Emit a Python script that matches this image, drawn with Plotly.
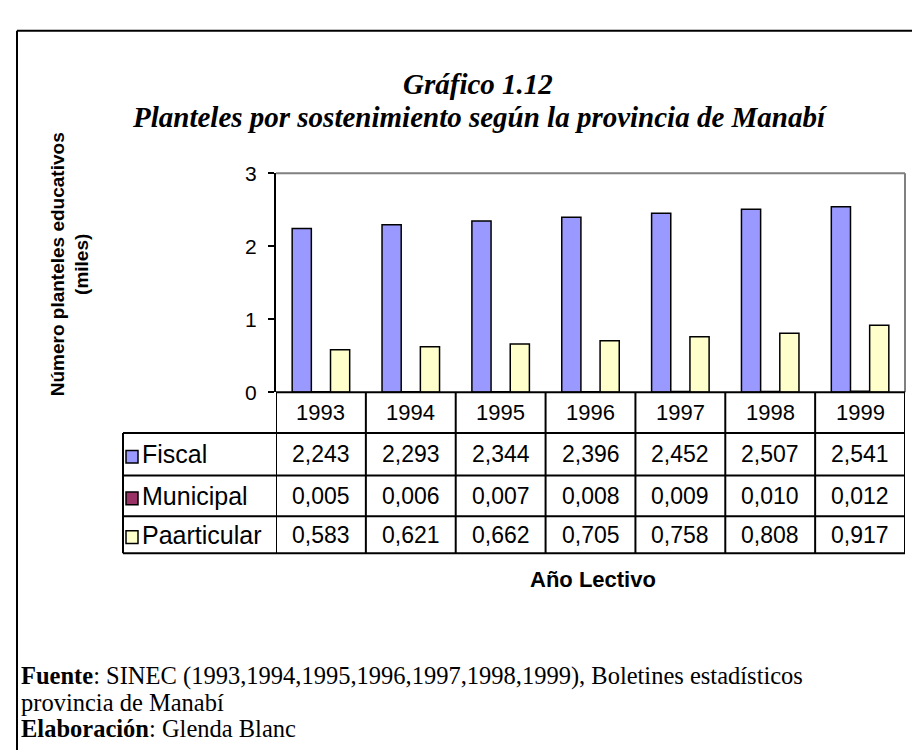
import plotly.graph_objects as go

# ---------------- data ----------------
years = ["1993", "1994", "1995", "1996", "1997", "1998", "1999"]
fiscal = [2.243, 2.293, 2.344, 2.396, 2.452, 2.507, 2.541]
municipal = [0.005, 0.006, 0.007, 0.008, 0.009, 0.010, 0.012]
particular = [0.583, 0.621, 0.662, 0.705, 0.758, 0.808, 0.917]
series_names = ["Fiscal", "Municipal", "Paarticular"]
series_values = [fiscal, municipal, particular]
series_colors = ["#9999FF", "#993366", "#FFFFCC"]
y_ticks = [0, 1, 2, 3]

title_1 = "Gráfico 1.12"
title_2 = "Planteles por sostenimiento según la provincia de Manabí"
y_title = "Número planteles educativos<br>(miles)"
x_title = "Año Lectivo"
footer_1 = "<b>Fuente</b>: SINEC (1993,1994,1995,1996,1997,1998,1999), Boletines estadísticos"
footer_2 = "provincia de Manabí"
footer_3 = "<b>Elaboración</b>: Glenda Blanc"

# ---------------- geometry helpers (pixels -> paper) ----------------
W, H = 920, 750
def X(px):
    return px / W
def Y(py):
    return 1 - py / H

PL, PR, PT, PB = 268, 897, 158, 384      # plot area
TL = 115                                  # table left edge
ROW_LINES = [426, 470, 512, 550]          # horizontal table lines below header
HEADER_C = 405
ROW_C = [448, 491, 531]

SANS = "Arial, Liberation Sans, sans-serif"
SERIF = "Times New Roman, Liberation Serif, serif"

fig = go.Figure()
for name, vals, col in zip(series_names, series_values, series_colors):
    fig.add_trace(go.Bar(
        x=years, y=vals, name=name,
        marker=dict(color=col, line=dict(color="black", width=1.5)),
        hoverinfo="x+y+name",
    ))

shapes = []
line_k = dict(color="black", width=2)
# outer frame (left and top)
shapes.append(dict(type="line", xref="paper", yref="paper",
                   x0=X(9), x1=X(925), y0=Y(11), y1=Y(11), line=line_k))
shapes.append(dict(type="line", xref="paper", yref="paper",
                   x0=X(9), x1=X(9), y0=Y(11), y1=Y(760), line=line_k))
# plot area border (gray top/right)
shapes.append(dict(type="line", xref="paper", yref="paper",
                   x0=X(PL), x1=X(PR), y0=Y(PT), y1=Y(PT),
                   line=dict(color="#808080", width=2)))
shapes.append(dict(type="line", xref="paper", yref="paper",
                   x0=X(PR), x1=X(PR), y0=Y(PT), y1=Y(PB),
                   line=dict(color="#808080", width=2)))
# table: top line (x axis) and vertical separators
shapes.append(dict(type="line", xref="paper", yref="paper",
                   x0=X(PL), x1=X(PR), y0=Y(PB), y1=Y(PB), line=line_k))
for k in range(len(years) + 1):
    shapes.append(dict(type="line", xref="x", yref="paper",
                       x0=k - 0.5, x1=k - 0.5, y0=Y(PB), y1=Y(ROW_LINES[-1]),
                       line=line_k))
for ry in ROW_LINES:
    shapes.append(dict(type="line", xref="paper", yref="paper",
                       x0=X(TL), x1=X(PR), y0=Y(ry), y1=Y(ry), line=line_k))
shapes.append(dict(type="line", xref="paper", yref="paper",
                   x0=X(TL), x1=X(TL), y0=Y(ROW_LINES[0]), y1=Y(ROW_LINES[-1]),
                   line=line_k))
# legend keys in first column
for rc, col in zip(ROW_C, series_colors):
    shapes.append(dict(type="rect", xref="paper", yref="paper",
                       x0=X(118), x1=X(130), y0=Y(rc - 4), y1=Y(rc + 9),
                       fillcolor=col, line=dict(color="black", width=1.5)))

ann = []
def add(text, x, y, size, family=SANS, xref="paper", xanchor="center",
        textangle=0):
    ann.append(dict(text=text, x=x, y=y, xref=xref, yref="paper",
                    xanchor=xanchor, yanchor="middle", showarrow=False,
                    textangle=textangle,
                    font=dict(family=family, size=size, color="black")))

# titles
add("<b><i>" + title_1 + "</i></b>", X(470), Y(66), 29, SERIF)
add("<b><i>" + title_2 + "</i></b>", X(472), Y(100), 29, SERIF)
# y title
add("<b>" + y_title + "</b>", X(62), Y(252), 19, textangle=-90)
# x title
add("<b>" + x_title + "</b>", X(585), Y(577), 22)
# header years
for i, yr in enumerate(years):
    add(yr, i, Y(HEADER_C), 22, xref="x")
# table rows
for rc, name, vals in zip(ROW_C, series_names, series_values):
    add(name, X(132), Y(rc), 25, xanchor="left")
    for i, v in enumerate(vals):
        add(f"{v:.3f}".replace(".", ","), i, Y(rc), 23, xref="x")
# footer
for txt, fy in zip([footer_1, footer_2, footer_3], [677, 704, 731]):
    add(txt, X(11), Y(fy), 24.5, SERIF, xanchor="left")

fig.update_layout(
    width=W, height=H,
    margin=dict(l=0, r=0, t=0, b=0),
    paper_bgcolor="white", plot_bgcolor="white",
    barmode="group", bargap=0.36, bargroupgap=0,
    showlegend=False,
    xaxis=dict(domain=[X(PL), X(PR)], type="category", range=[-0.5, 6.5],
               showticklabels=False, ticks="", showline=False,
               showgrid=False, zeroline=False),
    yaxis=dict(domain=[Y(PB), Y(PT)], range=[0, 3], tickvals=y_ticks,
               ticks="outside", ticklen=6, tickwidth=2, tickcolor="black",
               showline=True, linecolor="black", linewidth=2,
               showgrid=False, zeroline=False, ticklabelstandoff=7,
               tickfont=dict(family=SANS, size=21, color="black")),
    shapes=shapes, annotations=ann,
)

fig.write_html("out.html")
